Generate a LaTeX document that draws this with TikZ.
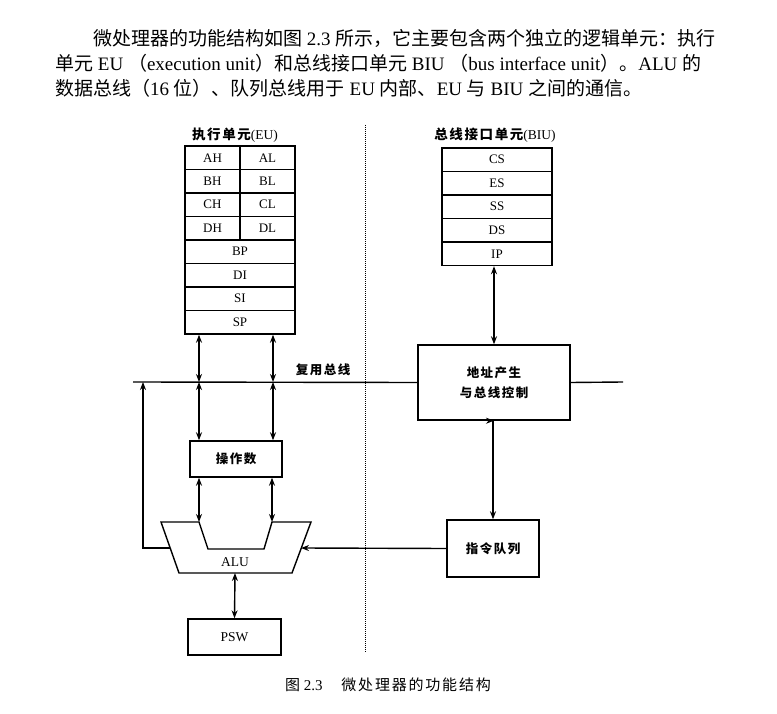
\documentclass[tikz,border=0pt]{standalone}
\usepackage{fontspec}
\setmainfont{Liberation Serif}
\newfontfamily\cjk{Noto Sans CJK SC}
\newfontfamily\cjkw[LetterSpace=12]{Noto Sans CJK SC}
\usetikzlibrary{arrows.meta}

\tikzset{
  reg/.style={draw, line width=1.4pt, minimum height=23.5pt, inner sep=0pt, font=\fontsize{13}{13}\selectfont},
  halfreg/.style={reg, minimum width=55pt},
  fullreg/.style={reg, minimum width=110pt},
  unit/.style={draw, line width=1.4pt, inner sep=0pt, align=center, font=\cjkw\bfseries\fontsize{12.5}{20}\selectfont},
  title/.style={font=\fontsize{13.5}{13.5}\selectfont},
  para/.style={anchor=west, inner sep=0pt, font=\fontsize{19}{19}\selectfont},
  link/.style={line width=1.4pt, {Stealth[length=8pt,width=6pt]}-{Stealth[length=8pt,width=6pt]}},
  feed/.style={line width=1.4pt, -{Stealth[length=8pt,width=6pt]}},
}

\begin{document}
\begin{tikzpicture}[x=1pt,y=-1pt]
\path[use as bounding box] (0,0) rectangle (777,714);
% text above the figure
\node[para] (p1) at (93,38) {{\cjk 微处理器的功能结构如图} 2.3 {\cjk 所示，它主要包含两个独立的逻辑单元：执行}};
\node[para] (p2) at (55,63) {{\cjk 单元} EU {\cjk （}execution unit{\cjk ）和总线接口单元} BIU {\cjk （}bus interface unit{\cjk ）。}ALU {\cjk 的}};
\node[para] (p3) at (55,88) {{\cjk 数据总线（}16 {\cjk 位）、队列总线用于} EU {\cjk 内部、}EU {\cjk 与} BIU {\cjk 之间的通信。}};
% dividing line
\draw[densely dotted, line width=1pt] (365,125) -- (365,653);
% execution unit
\node[title] (eu) at (235,135) {{\cjkw\bfseries 执行单元}(EU)};
\node[halfreg] (AH) at (212.5,157.75) {AH};
\node[halfreg] (AL) at (267.5,157.75) {AL};
\node[halfreg] (BH) at (212.5,181.25) {BH};
\node[halfreg] (BL) at (267.5,181.25) {BL};
\node[halfreg] (CH) at (212.5,204.75) {CH};
\node[halfreg] (CL) at (267.5,204.75) {CL};
\node[halfreg] (DH) at (212.5,228.25) {DH};
\node[halfreg] (DL) at (267.5,228.25) {DL};
\node[fullreg] (BP) at (240,251.75) {BP};
\node[fullreg] (DI) at (240,275.25) {DI};
\node[fullreg] (SI) at (240,298.75) {SI};
\node[fullreg] (SP) at (240,322.25) {SP};
% bus interface unit
\node[title] (biu) at (495,135) {{\cjkw\bfseries 总线接口单元}(BIU)};
\node[fullreg] (CS) at (497,159.75) {CS};
\node[fullreg] (ES) at (497,183.25) {ES};
\node[fullreg] (SS) at (497,206.75) {SS};
\node[fullreg] (DS) at (497,230.25) {DS};
\node[fullreg] (IP) at (497,253.75) {IP};
% bus and control
\node[unit, minimum width=152pt, minimum height=75pt] (addr) at (494,382.5) {地址产生\\与总线控制};
\coordinate (busL) at (133,382);
\coordinate (busR) at (623,382);
\draw[line width=1.4pt] (busL) -- (addr.west);
\draw[line width=1.4pt] (addr.east) -- (busR);
\node[font=\cjkw\bfseries\fontsize{12.5}{12.5}\selectfont] (bus) at (323,370) {复用总线};
\coordinate (b1) at (199,382);
\coordinate (b2) at (273,382);
\coordinate (fb) at (143,382);
% operand, ALU, PSW
\node[unit, minimum width=92pt, minimum height=36pt] (op) at (236,459) {操作数};
\coordinate (aluA) at (199,522);
\coordinate (aluB) at (272,522);
\coordinate (aluL) at (170,548);
\coordinate (aluR) at (301,548);
\coordinate (aluS) at (235,573);
\draw[line width=1.4pt] (161,522) -- (aluA) -- (208,549) -- (264,549) -- (aluB)
  -- (311,522) -- (292,573) -- (179,573) -- cycle;
\node[title] (alu) at (235,562) {ALU};
\node[unit, minimum width=93pt, minimum height=36pt, font=\fontsize{13.5}{13.5}\selectfont] (psw) at (234.5,637) {PSW};
\node[unit, minimum width=92pt, minimum height=57pt] (queue) at (493,548.5) {指令队列};
% connections
\draw[link] (SP.south -| b1) -- (b1);
\draw[link] (SP.south -| b2) -- (b2);
\draw[link] (b1) -- (op.north -| b1);
\draw[link] (b2) -- (op.north -| b2);
\draw[link] (op.south -| aluA) -- (aluA);
\draw[link] (op.south -| aluB) -- (aluB);
\draw[link] (aluS) -- (psw.north);
\draw[feed] (aluL) -- (aluL -| fb) -- (fb);
\draw[feed] (queue.west) -- (aluR);
\draw[link] (IP.south -| addr.north) -- (addr.north);
\draw[link] (addr.south) -- (addr.south -| queue.north) -- (queue.north);
% caption
\node[font=\fontsize{15}{15}\selectfont] (cap) at (388,685) {{\cjkw 图} 2.3\quad\ {\cjkw 微处理器的功能结构}};
\end{tikzpicture}
\end{document}
